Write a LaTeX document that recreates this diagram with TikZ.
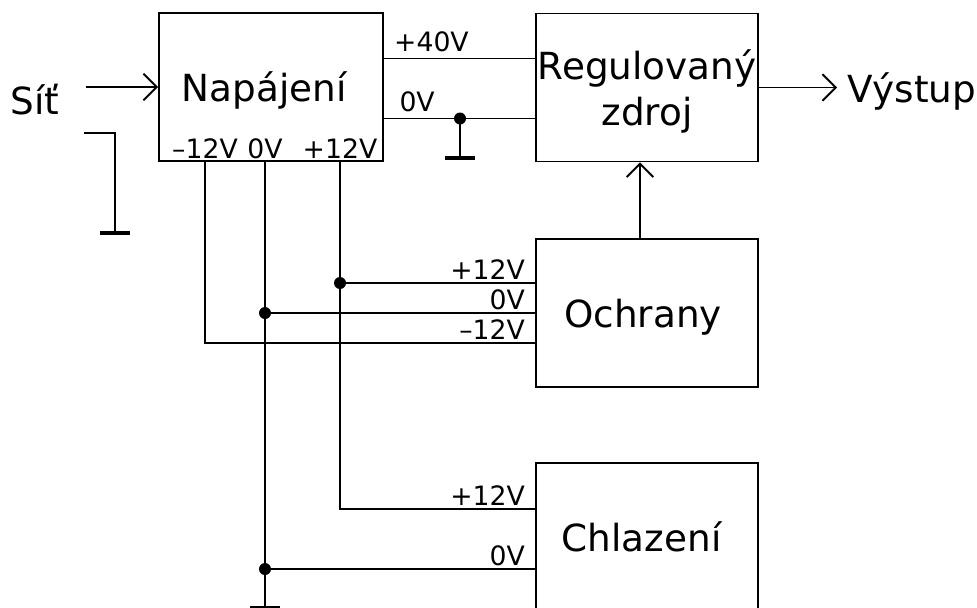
\documentclass[tikz,border=0pt]{standalone}
\usepackage{fontspec}
\setmainfont{DejaVu Sans}
\usetikzlibrary{arrows.meta,positioning,calc}
\tikzset{>={Straight Barb[length=10pt,width=20pt]},
  blk/.style={draw, minimum width=166.5pt, minimum height=111pt, inner sep=0pt, align=center, text depth=0pt, font=\fontsize{28}{34.5}\selectfont},
  big/.style={inner sep=0pt, text depth=0pt, font=\fontsize{28}{34.5}\selectfont},
  lbl/.style={inner sep=2pt, font=\fontsize{20}{24}\selectfont},
  gnd/.style={line width=2.8pt}}

\begin{document}
\begin{tikzpicture}[x=0.75pt, y=-0.75pt, line width=1.4pt]
  \useasboundingbox (0,0) rectangle (977,607);
  % blocks
  \node[blk, minimum width=168pt] (nap) at (271,87) {Napájení\hspace*{10pt}};
  \node[blk] (reg) at (647,87.5) {Regulovaný\\zdroj};
  \node[blk] (och) at (647,313) {Ochrany\hspace*{6pt}};
  \node[blk] (chl) at (647,537) {Chlazení\hspace*{8pt}};
  % input and output
  \node[big] (sit) at (35,99) {Síť};
  \draw[->, shorten <=19.5pt] (sit.east |- nap.west) -- (nap.west);
  \coordinate (sg) at (84,133);
  \coordinate (g1) at (115,233);
  \draw (sg) -| (g1);
  \draw[gnd] (g1) ++(-15,0) -- ++(30,0);
  \node[big, anchor=west] (vys) at (847,87.5) {Výstup};
  \draw[->, shorten >=7.5pt] (reg.east) -- (vys.west);
  \draw[->] ($(och.north)+(-7,0)$) -- ($(reg.south)+(-7,0)$);
  % +40V / 0V
  \coordinate (r40) at ($(reg.west)+(0,-29)$);
  \coordinate (r0) at ($(reg.west)+(0,31)$);
  \draw (nap.east |- r40) -- (r40);
  \draw (nap.east |- r0) -- (r0);
  \node[lbl, anchor=south west, xshift=5pt, yshift=2pt] at (nap.east |- r40) {+40V};
  \node[lbl, anchor=south west, xshift=9pt, yshift=2pt] at (nap.east |- r0) {0V};
  \coordinate (g2) at (460,158);
  \fill (g2 |- r0) circle (6);
  \draw (g2 |- r0) -- (g2);
  \draw[gnd] (g2) ++(-15,0) -- ++(30,0);
  % low voltage outputs
  \foreach \n/\x/\t in {m/205/–12V, z/265/0V, p/340/+12V}
    \node[lbl, anchor=south, inner sep=1pt] (n\n) at (\x,161) {\t};
  \coordinate (op) at ($(och.west)+(0,-30)$);
  \coordinate (om) at ($(och.west)+(0,30)$);
  \coordinate (cp) at ($(chl.west)+(0,-28)$);
  \coordinate (cz) at ($(chl.west)+(0,32)$);
  \coordinate (g3) at (265,607.5);
  \draw (np.south) |- (cp);
  \draw (nm.south) |- (om);
  \draw (nz.south) -- (g3);
  \draw[gnd] (g3) ++(-15,0) -- ++(30,0);
  \draw (np.south |- op) -- (op);
  \draw (nz.south |- och.west) -- (och.west);
  \draw (nz.south |- cz) -- (cz);
  \foreach \c in {np.south |- op, nz.south |- och.west, nz.south |- cz}
    \fill (\c) circle (6);
  % supply labels
  \foreach \c/\t in {op/+12V, och.west/0V, om/–12V, cp/+12V, cz/0V}
    \node[lbl, anchor=south east, xshift=-5pt] at (\c) {\t};
\end{tikzpicture}
\end{document}
